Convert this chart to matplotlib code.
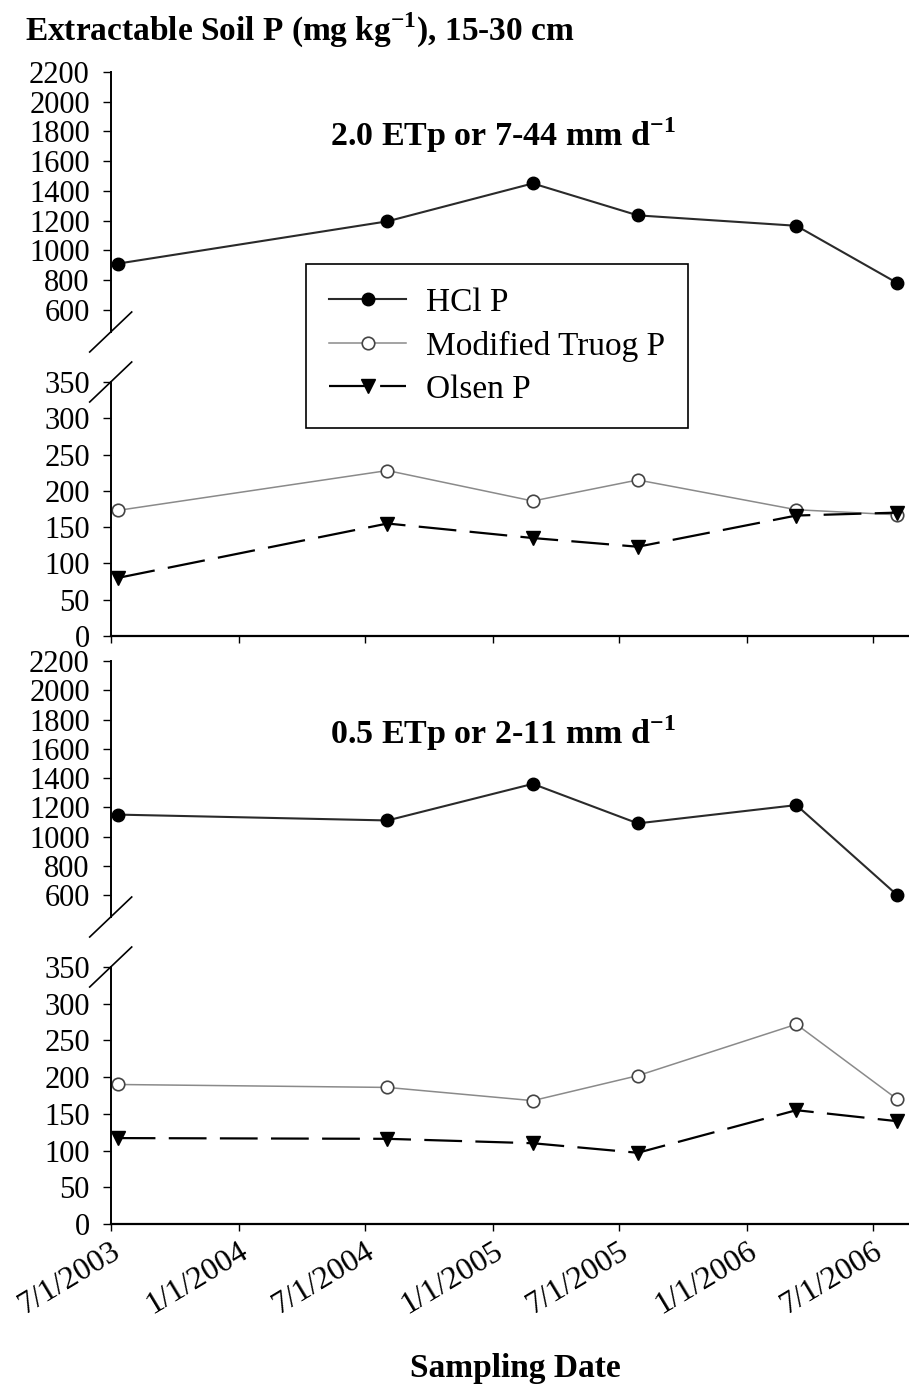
import matplotlib
matplotlib.use("Agg")
import matplotlib.pyplot as plt
from matplotlib.lines import Line2D
import pandas as pd

plt.rcParams['font.family'] = ['Liberation Serif', 'DejaVu Serif']
plt.rcParams['mathtext.fontset'] = 'custom'
plt.rcParams['mathtext.rm'] = 'Liberation Serif'
plt.rcParams['mathtext.bf'] = 'Liberation Serif:bold'

# ---- data ----
sample_dates = pd.to_datetime(['2003-07-11', '2004-08-02', '2005-02-27',
                               '2005-07-28', '2006-03-13', '2006-08-05'])
hcl_high = [910, 1195, 1450, 1235, 1165, 780]
truog_high = [173, 228, 186, 215, 174, 167]
olsen_high = [80, 155, 135, 123, 166, 170]

hcl_low = [1150, 1110, 1360, 1090, 1215, 600]
truog_low = [190, 186, 168, 202, 272, 170]
olsen_low = [117, 116, 110, 97, 155, 140]

tick_dates = pd.to_datetime(['2003-07-01', '2004-01-01', '2004-07-01', '2005-01-01',
                             '2005-07-01', '2006-01-01', '2006-07-01'])
tick_labels = ['7/1/2003', '1/1/2004', '7/1/2004', '1/1/2005',
               '7/1/2005', '1/1/2006', '7/1/2006']
upper_ticks = [600, 800, 1000, 1200, 1400, 1600, 1800, 2000, 2200]
lower_ticks = [0, 50, 100, 150, 200, 250, 300, 350]

series_names = ['HCl P', 'Modified Truog P', 'Olsen P']
panel_titles = [r'2.0 ETp or 7-44 mm d$^{\mathbf{-1}}$', r'0.5 ETp or 2-11 mm d$^{\mathbf{-1}}$']

W, H = 909, 1386
fig = plt.figure(figsize=(W / 100, H / 100), dpi=100)

def fy(px):
    return 1 - px / H

def fx(px):
    return px / W

left = fx(110.7)
width = 1 - left
xlim = (pd.Timestamp('2003-07-01'), pd.Timestamp('2006-08-22'))
FS = 24
TFS = 22

hcl_style = dict(color='#2a2a2a', lw=1.5, marker='o', ms=9, mfc='black', mec='black')
truog_style = dict(color='#8a8a8a', lw=1.1, marker='o', ms=9, mfc='white', mec='#444444', mew=1.2)
olsen_style = dict(color='black', lw=1.6, marker='v', ms=10, mfc='black', mec='black', dashes=(17, 6))

def style_axis(ax, has_x):
    for s in ['top', 'right']:
        ax.spines[s].set_visible(False)
    ax.spines['left'].set_linewidth(1.4)
    ax.tick_params(axis='y', direction='out', length=6, width=1, pad=9, labelsize=TFS)
    ax.set_xlim(*xlim)
    if has_x:
        ax.spines['bottom'].set_linewidth(1.6)
        ax.set_xticks(tick_dates)
        ax.tick_params(axis='x', direction='out', length=5, width=1)
    else:
        ax.spines['bottom'].set_visible(False)
        ax.set_xticks([])

def break_marks(ax_up, ax_low):
    x0 = ax_up.get_position().x0
    for yb in (ax_up.get_position().y0, ax_low.get_position().y1):
        dx, dy = 21 / W, 20 / H
        fig.add_artist(Line2D([x0 - dx, x0 + dx], [yb - dy, yb + dy],
                              transform=fig.transFigure, color='black', lw=1.2))

panels = [
    (72, 332, 382, 636, hcl_high, truog_high, olsen_high, False),
    (661, 917, 967, 1224, hcl_low, truog_low, olsen_low, True),
]
handles = None
for i, (ut, ub, lt, lb, hcl, truog, olsen, labels_on) in enumerate(panels):
    axu = fig.add_axes([left, fy(ub), width, fy(ut) - fy(ub)])
    axl = fig.add_axes([left, fy(lb), width, fy(lt) - fy(lb)])
    h1, = axu.plot(sample_dates, hcl, label=series_names[0], clip_on=False, **hcl_style)
    h2, = axl.plot(sample_dates, truog, label=series_names[1], clip_on=False, **truog_style)
    h3, = axl.plot(sample_dates, olsen, label=series_names[2], clip_on=False, **olsen_style)
    axu.set_ylim(450, 2200)
    axu.set_yticks(upper_ticks)
    axl.set_ylim(0, 350)
    axl.set_yticks(lower_ticks)
    style_axis(axu, False)
    style_axis(axl, True)
    if labels_on:
        axl.set_xticklabels(tick_labels, rotation=31, ha='right', rotation_mode='anchor', fontsize=23)
        axl.tick_params(axis='x', pad=4)
    else:
        axl.set_xticklabels([])
    break_marks(axu, axl)
    if handles is None:
        handles = [h1, h2, h3]

fig.text(fx(330), fy(146), panel_titles[0], fontsize=24.5, fontweight='bold', ha='left', va='baseline')
fig.text(fx(330), fy(744), panel_titles[1], fontsize=24.5, fontweight='bold', ha='left', va='baseline')

fig.text(fx(25), fy(41), r'Extractable Soil P (mg kg$^{\mathbf{-1}}$), 15-30 cm', fontsize=FS,
         fontweight='bold', ha='left', va='baseline')
fig.text(fx(515), fy(1377), 'Sampling Date', fontsize=FS, fontweight='bold', ha='center', va='baseline')

leg = fig.legend(handles=handles, labels=series_names, loc='upper left',
                 bbox_to_anchor=(fx(306), fy(264)), bbox_transform=fig.transFigure,
                 borderaxespad=0, fontsize=FS, frameon=True, fancybox=False,
                 edgecolor='black', framealpha=1, handlelength=2.3, handletextpad=0.6,
                 labelspacing=0.38, borderpad=0.7)
leg.get_frame().set_linewidth(1.2)

fig.savefig('out.png', dpi=100)
